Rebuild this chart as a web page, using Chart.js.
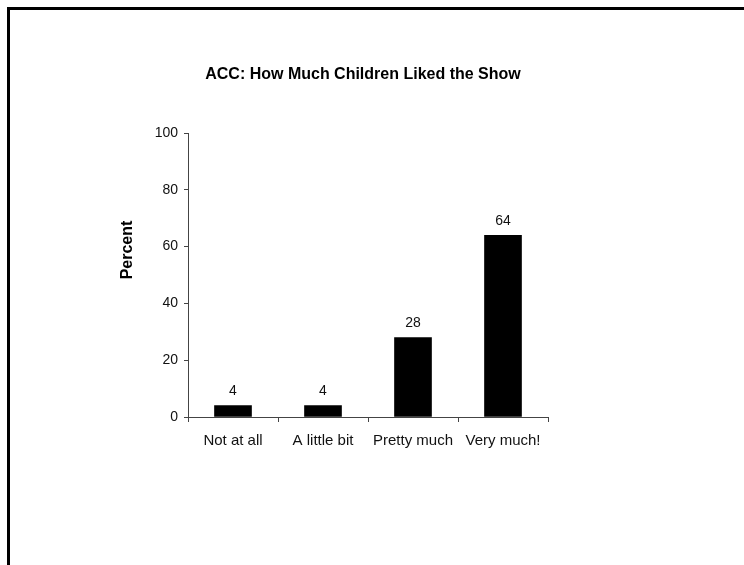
<!DOCTYPE html>
<html>
<head>
<meta charset="utf-8">
<script src="https://cdn.jsdelivr.net/npm/chart.js@4"></script>
<style>
  html, body { margin: 0; padding: 0; background: #fff; overflow: hidden; }
  #frame { position: absolute; left: 7px; top: 7px; width: 800px; height: 600px;
           border-left: 3px solid #000; border-top: 3px solid #000; }
  #chart { position: absolute; left: 0; top: 0; }
</style>
</head>
<body>
<div id="frame"></div>
<canvas id="chart" width="744" height="565"></canvas>
<script>
// data
var categories = ['Not at all', 'A little bit', 'Pretty much', 'Very much!'];
var percents = [4, 4, 28, 64];
var yTicks = [0, 20, 40, 60, 80, 100];
var chartTitle = 'ACC: How Much Children Liked the Show';
var yTitle = 'Percent';

var FONT = '"Liberation Sans", Arial, sans-serif';

// title + y axis title + value labels
var extras = {
  id: 'extras',
  afterDraw: function(chart) {
    var ctx = chart.ctx;
    ctx.save();
    ctx.fillStyle = '#000';
    ctx.textAlign = 'center';
    ctx.textBaseline = 'middle';
    ctx.font = 'bold 16px ' + FONT;
    ctx.fillText(chartTitle, 363, 75);

    ctx.save();
    ctx.translate(128, 250);
    ctx.rotate(-Math.PI / 2);
    ctx.font = 'bold 16px ' + FONT;
    ctx.fillText(yTitle, 0, 0);
    ctx.restore();

    ctx.font = '14px ' + FONT;
    ctx.fillStyle = '#111';
    var meta = chart.getDatasetMeta(0);
    meta.data.forEach(function(bar, i) {
      ctx.fillText(String(percents[i]), bar.x, bar.y - 14);
    });
    ctx.restore();
  }
};

var ctx = document.getElementById('chart').getContext('2d');
var myChart = new Chart(ctx, {
  type: 'bar',
  data: {
    labels: categories,
    datasets: [{
      data: percents,
      backgroundColor: '#000',
      borderWidth: 0,
      barThickness: 37
    }]
  },
  options: {
    responsive: false,
    animation: false,
    layout: { padding: { left: 138, right: 196, top: 133, bottom: 108 } },
    plugins: {
      legend: { display: false },
      title: { display: false },
      tooltip: { enabled: false }
    },
    scales: {
      x: {
        afterFit: function(s) { s.height = 40; },
        grid: { drawOnChartArea: false, tickLength: 5, color: '#444', offset: true },
        border: { color: '#444', width: 1 },
        ticks: { color: '#111', padding: 10, font: { family: FONT, size: 15 } }
      },
      y: {
        min: 0,
        max: 100,
        afterFit: function(s) { s.width = 50; },
        afterBuildTicks: function(s) { s.ticks = yTicks.map(function(v) { return { value: v }; }); },
        grid: { drawOnChartArea: false, tickLength: 4, color: '#444' },
        border: { color: '#444', width: 1 },
        ticks: { color: '#111', padding: 6, font: { family: FONT, size: 14 } }
      }
    }
  },
  plugins: [extras]
});
</script>
</body>
</html>
